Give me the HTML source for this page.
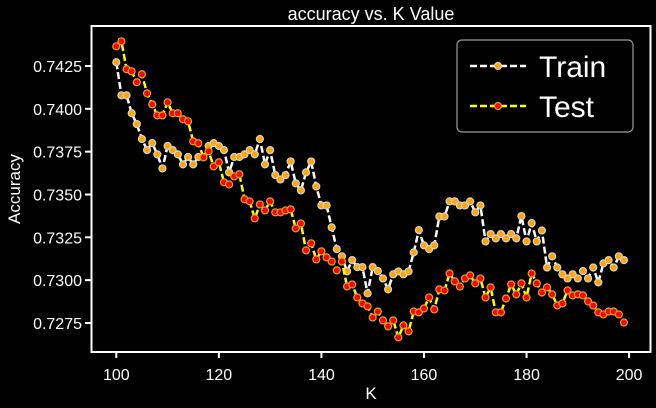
<!DOCTYPE html>
<html><head><meta charset="utf-8"><style>
body{margin:0;background:#000;width:656px;height:408px;overflow:hidden}
svg{display:block;font-family:"Liberation Sans",sans-serif}
</style></head><body>
<svg id="chart" width="656" height="408" viewBox="0 0 656 408"></svg>
<script>
const kValues=[];for(let k=100;k<200;k++)kValues.push(k);
const trainAcc=[0.74272,0.74079,0.74079,0.73974,0.73911,0.73824,0.73759,0.738,0.73734,0.73652,
0.73783,0.73759,0.73734,0.73676,0.73719,0.73676,0.73719,0.73719,0.73783,0.738,
0.73783,0.73759,0.73629,0.73719,0.73719,0.73734,0.73759,0.73734,0.73824,0.73676,
0.73759,0.73613,0.73588,0.73613,0.73693,0.73565,0.73524,0.73629,0.73693,0.73547,
0.73436,0.73436,0.73308,0.73181,0.73139,0.73051,0.73117,0.73076,0.73076,0.72923,
0.73076,0.73053,0.7301,0.72946,0.73034,0.73051,0.73034,0.73051,0.73162,0.73292,
0.73203,0.73181,0.73203,0.73372,0.73372,0.7346,0.7346,0.73436,0.73436,0.7346,
0.73396,0.73436,0.73226,0.73269,0.73244,0.73269,0.73244,0.73269,0.73244,0.73374,
0.73226,0.73333,0.73226,0.7329,0.73074,0.73139,0.73074,0.73034,0.7301,0.73034,
0.7301,0.73053,0.7301,0.73074,0.72987,0.73098,0.73117,0.73074,0.73139,0.73117];
const testAcc=[0.74365,0.74394,0.74231,0.74219,0.74155,0.74202,0.7409,0.74026,0.73962,0.73962,
0.74038,0.73974,0.73974,0.73939,0.73927,0.7381,0.73799,0.73717,0.73752,0.73664,
0.73688,0.73571,0.73559,0.73606,0.73618,0.73472,0.7346,0.73361,0.73442,0.73407,
0.7346,0.73396,0.73396,0.73407,0.73413,0.73302,0.73331,0.73174,0.73215,0.73121,
0.73168,0.73133,0.73109,0.73057,0.73109,0.72963,0.72975,0.72899,0.72864,0.72847,
0.72782,0.72817,0.72765,0.7273,0.72765,0.72666,0.72736,0.72701,0.72817,0.72812,
0.72835,0.72899,0.72829,0.72946,0.7294,0.73039,0.72993,0.72963,0.7301,0.73028,
0.72981,0.7301,0.72899,0.72958,0.72812,0.72812,0.72893,0.72975,0.72917,0.72981,
0.72899,0.73039,0.72981,0.72928,0.72958,0.72917,0.72852,0.72864,0.7294,0.72911,
0.72917,0.72911,0.72876,0.72852,0.72812,0.728,0.72817,0.72817,0.728,0.72753];
const xTicks=[100,120,140,160,180,200];
const yTicks=[0.7275,0.7300,0.7325,0.7350,0.7375,0.7400,0.7425];

const NS="http://www.w3.org/2000/svg";
const svg=document.getElementById('chart');
function X(k){return 116.3+(k-100)*5.128;}
function Y(v){return 66+(0.7425-v)*17132;}
function mk(tag,attrs,parent){const e=document.createElementNS(NS,tag);for(const a in attrs)e.setAttribute(a,attrs[a]);(parent||svg).appendChild(e);return e;}

const frame=mk('rect',{x:91.5,y:26,width:559,height:326,fill:'none',stroke:'#fff','stroke-width':2});



xTicks.forEach(t=>{
  const l=mk('line',{x1:X(t),x2:X(t),y1:352,y2:358,stroke:'#fff','stroke-width':2});
  
  
  const tx=mk('text',{x:X(t),y:380,fill:'#fff','font-size':16,'text-anchor':'middle'});
  tx.textContent=t;
  
  
});
yTicks.forEach(t=>{
  const l=mk('line',{x1:85,x2:91,y1:Y(t),y2:Y(t),stroke:'#fff','stroke-width':2});
  
  
  const tx=mk('text',{x:82,y:Y(t)+6,fill:'#fff','font-size':16,'text-anchor':'end'});
  tx.textContent=t.toFixed(4);
  
  
});

function series(vals,lineColor,fill,edge,name){
  const g=mk('g',{});
  
  
  const pts=vals.map((v,i)=>X(kValues[i])+','+Y(v)).join(' ');
  const pl=mk('polyline',{points:pts,fill:'none',stroke:lineColor,'stroke-width':2.5,'stroke-dasharray':'7,3'},g);
  
  
  vals.forEach((v,i)=>{
    const c=mk('circle',{cx:X(kValues[i]),cy:Y(v),r:3.5,fill:fill,stroke:edge,'stroke-width':1.2},g);
    
    
  });
}
series(trainAcc,'#fff','#ffa500','#d3d3d3','train');
series(testAcc,'#ffff00','#ff0000','#daa520','test');

const title=mk('text',{x:371,y:20,fill:'#fff','font-size':18,'text-anchor':'middle'});
title.textContent='accuracy vs. K Value';


const xl=mk('text',{x:371,y:399,fill:'#fff','font-size':17,'text-anchor':'middle'});
xl.textContent='K';


const yl=mk('text',{x:0,y:0,fill:'#fff','font-size':17,'text-anchor':'middle',transform:'translate(20,189) rotate(-90)'});
yl.textContent='Accuracy';



const lg=mk('g',{});


mk('rect',{x:457,y:40,width:176,height:92,rx:5,fill:'#000',stroke:'#999','stroke-width':1.2},lg);
[['Train',66,'#fff','#ffa500','#d3d3d3'],['Test',106,'#ffff00','#ff0000','#daa520']].forEach(e=>{
  const eg=mk('g',{},lg);
  
  
  mk('line',{x1:470,x2:526,y1:e[1],y2:e[1],stroke:e[2],'stroke-width':2.5,'stroke-dasharray':'7,3'},eg);
  mk('circle',{cx:498,cy:e[1],r:3.5,fill:e[3],stroke:e[4],'stroke-width':1.2},eg);
  const t=mk('text',{x:539,y:e[1]+11,fill:'#fff','font-size':30},eg);
  t.textContent=e[0];
});
</script>
</body></html>
